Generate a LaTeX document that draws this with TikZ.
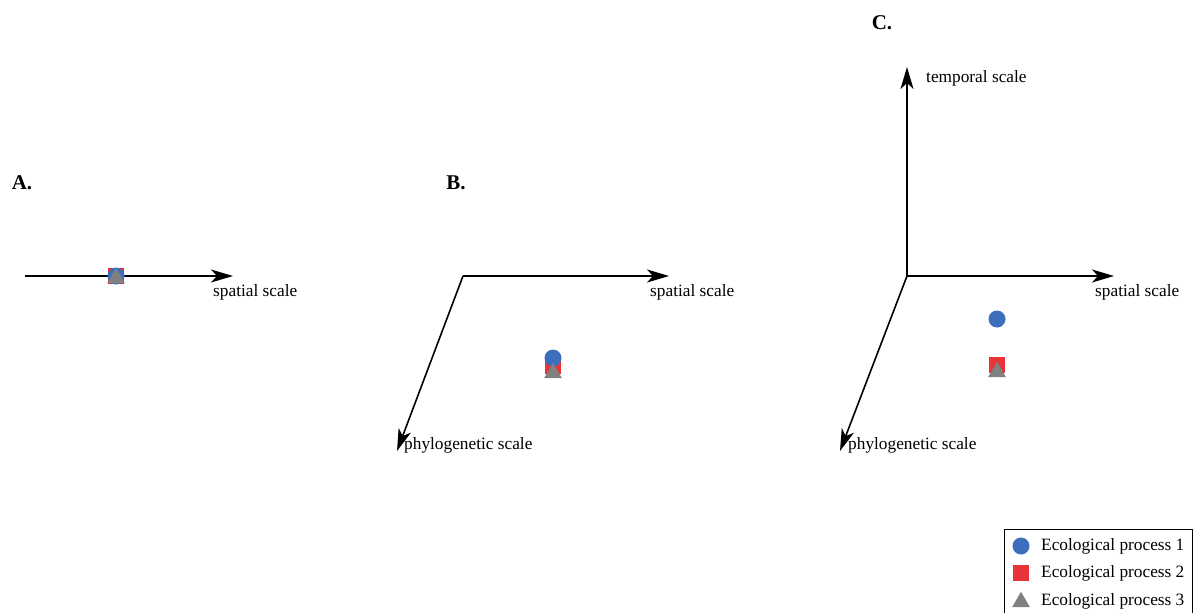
\documentclass[tikz,border=0pt]{standalone}
\usepackage{fontspec}
\setmainfont{Liberation Serif}
\usetikzlibrary{arrows.meta,shapes.geometric}

\definecolor{procblue}{RGB}{60,110,188}
\definecolor{procred}{RGB}{232,52,56}
\definecolor{procgray}{RGB}{128,128,128}

\begin{document}
\begin{tikzpicture}[x=1pt,y=-1pt,
    axis/.style={line width=1.6pt,-{Stealth[length=22pt,width=13pt,inset=6pt]}},
    lbl/.style={anchor=west,inner sep=0pt,font=\fontsize{17.3}{20}\selectfont},
    panel/.style={inner sep=0pt,font=\fontsize{21}{24}\selectfont\bfseries},
    proc1/.style={circle,fill=procblue,inner sep=0pt,minimum size=17pt},
    proc2/.style={rectangle,fill=procred,inner sep=0pt,minimum size=16.5pt},
    proc3/.style={regular polygon,regular polygon sides=3,fill=procgray,inner sep=0pt,minimum size=20.5pt}]
    \useasboundingbox (0,0) rectangle (1195,613);

    % panel A
    \node[panel] (pA) at (22,183) {A.};
    \coordinate (a0) at (25,276);
    \coordinate (a1) at (233,276);
    \draw[axis] (a0) -- (a1);
    \node[lbl] (as) at (213,292) {spatial scale};
    \node[proc2] (a2) at (116,276) {};
    \node[proc1] (a1p) at (116,276) {};
    \node[proc3] (a3) at (116,278) {};

    % panel B
    \node[panel] (pB) at (456,183) {B.};
    \coordinate (b0) at (463,276);
    \coordinate (bx) at (669,276);
    \coordinate (by) at (397,451);
    \draw[axis] (b0) -- (bx);
    \draw[axis] (b0) -- (by);
    \node[lbl] (bs) at (650,292) {spatial scale};
    \node[lbl] (bp) at (404,445) {phylogenetic scale};
    \node[proc2] (b2) at (553,366) {};
    \node[proc1] (b1) at (553,358) {};
    \node[proc3] (b3) at (553,373) {};

    % panel C
    \node[panel] (pC) at (882,23) {C.};
    \coordinate (c0) at (907,276);
    \coordinate (cz) at (907,67);
    \coordinate (cx) at (1114,276);
    \coordinate (cy) at (840,451);
    \draw[axis] (c0) -- (cz);
    \draw[axis] (c0) -- (cx);
    \draw[axis] (c0) -- (cy);
    \node[lbl] (ct) at (926,78) {temporal scale};
    \node[lbl] (cs) at (1095,292) {spatial scale};
    \node[lbl] (cp) at (848,445) {phylogenetic scale};
    \node[proc1] (c1) at (997,319) {};
    \node[proc2] (c2) at (997,365) {};
    \node[proc3] (c3) at (997,372) {};

    % legend
    \draw[line width=1pt] (1004.5,529) rectangle (1192.5,620);
    \node[proc1] (l1) at (1021,546) {};
    \node[proc2] (l2) at (1021,573) {};
    \node[proc3] (l3) at (1021,602) {};
    \node[lbl] (t1) at (1041,546) {Ecological process 1};
    \node[lbl] (t2) at (1041,573) {Ecological process 2};
    \node[lbl] (t3) at (1041,601) {Ecological process 3};
\end{tikzpicture}
\end{document}
